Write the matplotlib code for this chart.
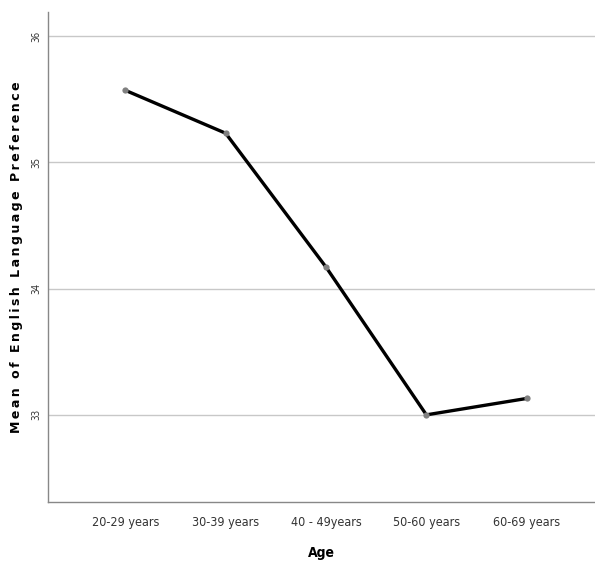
import numpy as np
import matplotlib.pyplot as plt

age_groups = ["20-29 years", "30-39 years", "40 - 49years", "50-60 years", "60-69 years"]
mean_pref = [35.57, 35.23, 34.17, 33.00, 33.13]
y_ticks = [33, 34, 35, 36]

cond = dict(family="DejaVu Sans", stretch="condensed")

fig = plt.figure(figsize=(5.95, 5.68), dpi=100)
ax = fig.add_axes([48 / 595, 1 - 502 / 568, 1 - 48 / 595, 490 / 568])

x = np.arange(len(age_groups))
ax.plot(x, mean_pref, color="black", lw=2.4, zorder=3)
ax.plot(x, mean_pref, "o", color="#808080", ms=4.5, mec="none", zorder=4)

ax.set_xlim(-0.77, 4.68)
ax.set_ylim(32.31, 36.19)
ax.set_yticks(y_ticks)
ax.set_yticklabels([str(t) for t in y_ticks], rotation=90, va="center",
                   fontsize=7, color="#333333", **cond)
ax.set_xticks(x)
ax.set_xticklabels(age_groups, fontsize=9, color="#333333", **cond)
ax.tick_params(length=0, pad=5)
ax.tick_params(axis="x", pad=10)

ax.yaxis.grid(True, color="#c8c8c8", lw=1)
ax.set_axisbelow(True)
for side in ["top", "right"]:
    ax.spines[side].set_visible(False)
for side in ["left", "bottom"]:
    ax.spines[side].set_color("#888888")
    ax.spines[side].set_linewidth(1)

ax.set_xlabel("Age", fontsize=10, fontweight="bold", labelpad=12, **cond)
ylab = "\u2009".join("Mean of English Language Preference")
ax.set_ylabel(ylab, fontsize=9, fontweight="bold", labelpad=6)

fig.savefig("out.png", dpi=100)
